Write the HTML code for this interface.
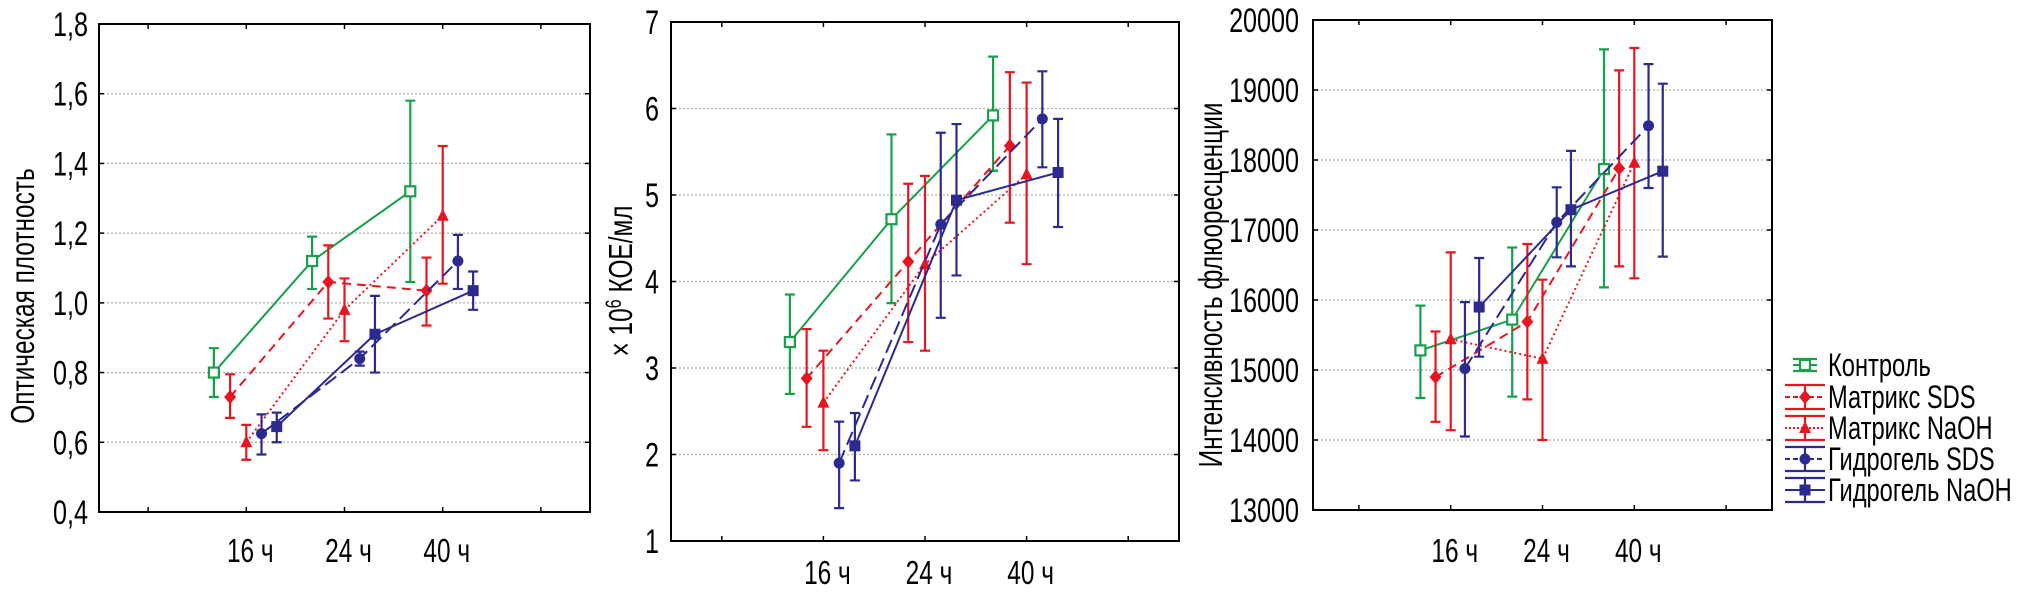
<!DOCTYPE html>
<html><head><meta charset="utf-8">
<style>
html,body{margin:0;padding:0;background:#fff;}
svg{display:block;}
text{font-family:"Liberation Sans","Noto Sans CJK SC",sans-serif;fill:#000;}
</style></head>
<body>
<svg id="root" width="2036" height="600" viewBox="0 0 2036 600" xmlns="http://www.w3.org/2000/svg"></svg>
<script>
// ---- data ----
const categories = ["16 ч","24 ч","40 ч"];
const seriesNames = ["Контроль","Матрикс SDS","Матрикс NaOH","Гидрогель SDS","Гидрогель NaOH"];
// Chart 1: optical density
const od_control = [0.80,1.12,1.32];
const od_control_lo = [0.73,1.04,1.06];
const od_control_hi = [0.87,1.19,1.58];
const od_msds = [0.73,1.06,1.035];
const od_msds_lo = [0.67,0.955,0.935];
const od_msds_hi = [0.795,1.165,1.13];
const od_mnaoh = [0.60,0.98,1.25];
const od_mnaoh_lo = [0.55,0.89,1.055];
const od_mnaoh_hi = [0.65,1.07,1.45];
const od_hsds = [0.625,0.84,1.12];
const od_hsds_lo = [0.565,0.82,1.04];
const od_hsds_hi = [0.68,0.86,1.195];
const od_hnaoh = [0.645,0.91,1.035];
const od_hnaoh_lo = [0.60,0.80,0.98];
const od_hnaoh_hi = [0.685,1.02,1.09];
const od_ticks = ["0,4","0,6","0,8","1,0","1,2","1,4","1,6","1,8"];
const od_tickvals = [0.4,0.6,0.8,1.0,1.2,1.4,1.6,1.8];
// Chart 2: CFU
const cfu_control = [3.3,4.72,5.92];
const cfu_control_lo = [2.7,3.75,5.28];
const cfu_control_hi = [3.85,5.7,6.6];
const cfu_msds = [2.88,4.23,5.57];
const cfu_msds_lo = [2.32,3.3,4.68];
const cfu_msds_hi = [3.45,5.13,6.42];
const cfu_mnaoh = [2.6,4.2,5.24];
const cfu_mnaoh_lo = [2.05,3.2,4.2];
const cfu_mnaoh_hi = [3.2,5.22,6.3];
const cfu_hsds = [1.9,4.66,5.88];
const cfu_hsds_lo = [1.38,3.58,5.32];
const cfu_hsds_hi = [2.38,5.72,6.43];
const cfu_hnaoh = [2.1,4.94,5.26];
const cfu_hnaoh_lo = [1.7,4.07,4.63];
const cfu_hnaoh_hi = [2.48,5.82,5.88];
const cfu_ticks = ["1","2","3","4","5","6","7"];
const cfu_tickvals = [1,2,3,4,5,6,7];
// Chart 3: fluorescence
const fl_control = [15280,15720,17870];
const fl_control_lo = [14600,14620,16180];
const fl_control_hi = [15920,16750,19580];
const fl_msds = [14900,15690,17880];
const fl_msds_lo = [14260,14580,16480];
const fl_msds_hi = [15550,16800,19280];
const fl_mnaoh = [15440,15160,17960];
const fl_mnaoh_lo = [14140,14000,16310];
const fl_mnaoh_hi = [16680,16290,19600];
const fl_hsds = [15020,17110,18490];
const fl_hsds_lo = [14050,16610,17600];
const fl_hsds_hi = [15970,17610,19370];
const fl_hnaoh = [15900,17290,17840];
const fl_hnaoh_lo = [15190,16480,16620];
const fl_hnaoh_hi = [16600,18130,19090];
const fl_ticks = ["13000","14000","15000","16000","17000","18000","19000","20000"];
const fl_tickvals = [13000,14000,15000,16000,17000,18000,19000,20000];

const GREEN="#16a04a", RED="#e8141f", BLUE="#2c2a8e";
const SX=0.74;
const styles = [
  {c:GREEN, dash:"", m:"osq", key:"control"},
  {c:RED, dash:"9 6", m:"dia", key:"matrix-sds"},
  {c:RED, dash:"2 3", m:"tri", key:"matrix-naoh"},
  {c:BLUE, dash:"14 6", m:"cir", key:"hydrogel-sds"},
  {c:BLUE, dash:"", m:"sq", key:"hydrogel-naoh"}
];
const NS="http://www.w3.org/2000/svg";
const root=document.getElementById('root');
function mk(tag,attrs,parent){const e=document.createElementNS(NS,tag);for(const k in attrs)e.setAttribute(k,attrs[k]);(parent||root).appendChild(e);return e;}
function ctext(parent,x,y,size,anchor,rot){
  const t=mk('text',{x:0,y:0,'font-size':size,'text-anchor':anchor,transform:`translate(${x} ${y})${rot?' rotate(-90)':''} scale(${SX} 1)`},parent);
  return t;
}

function marker(g,type,x,y,c){
  let e;
  if(type==="osq"){e=mk('rect',{x:x-5,y:y-5,width:10,height:10,fill:'#fff',stroke:c,'stroke-width':2.2},g);}
  else if(type==="sq"){e=mk('rect',{x:x-5.5,y:y-5.5,width:11,height:11,fill:c},g);}
  else if(type==="dia"){e=mk('polygon',{points:`${x},${y-7} ${x+6},${y} ${x},${y+7} ${x-6},${y}`,fill:c},g);}
  else if(type==="tri"){e=mk('polygon',{points:`${x},${y-7} ${x+6},${y+5} ${x-6},${y+5}`,fill:c},g);}
  else {e=mk('circle',{cx:x,cy:y,r:5.5,fill:c},g);}
  return e;
}

function chart(cfg){
  const {name,L,R,T,B,ymin,ymax,ticks,tickvals,labelRight,title,titleX,titleY,xLabelY,data}=cfg;
  const g=mk('g',{});
  
  
  const xs=v=>L+(v-0.5)*(R-L)/5;
  const ys=v=>B-(v-ymin)*(B-T)/(ymax-ymin);
  tickvals.forEach((v,i)=>{
    const y=ys(v);
    if(i>0&&i<tickvals.length-1){
      const gl=mk('line',{x1:L,x2:R,y1:y,y2:y,stroke:'#b0b0b0','stroke-width':1.2,'stroke-dasharray':'2 2'},g);
      
      
    }
    mk('line',{x1:L,x2:L+5,y1:y,y2:y,stroke:'#000','stroke-width':1.5},g);
    mk('line',{x1:R,x2:R-5,y1:y,y2:y,stroke:'#000','stroke-width':1.5},g);
    const t=ctext(g,labelRight,y+12,34,'end',false);
    t.textContent=ticks[i];
    
    
  });
  for(let k=1;k<=5;k++){
    const x=xs(k);
    mk('line',{x1:x,x2:x,y1:B,y2:B-5,stroke:'#000','stroke-width':1.5},g);
    mk('line',{x1:x,x2:x,y1:T,y2:T+5,stroke:'#000','stroke-width':1.5},g);
  }
  categories.forEach((c,i)=>{
    const t=ctext(g,xs(i+2)+4,xLabelY,33,'middle',false);
    t.textContent=c;
    
    
  });
  const box=mk('rect',{x:L,y:T,width:R-L,height:B-T,fill:'none',stroke:'#000','stroke-width':2},g);
  
  
  const tt=ctext(g,titleX,titleY,33,'middle',true);
  tt.innerHTML=title;
  
  
  const offs=[-0.33,-0.165,0,0.155,0.31];
  data.forEach((s,si)=>{
    const st=styles[si];
    const sg=mk('g',{},g);
    
    
    const pts=s.m.map((v,i)=>[xs(i+2+offs[si]),ys(v)]);
    const ln=mk('polyline',{points:pts.map(p=>p.join(',')).join(' '),fill:'none',stroke:st.c,'stroke-width':2,'stroke-dasharray':st.dash},sg);
    
    
    s.m.forEach((v,i)=>{
      const x=pts[i][0],yl=ys(s.lo[i]),yh=ys(s.hi[i]);
      const eb=mk('path',{d:`M${x},${yl}V${yh}M${x-5},${yl}H${x+5}M${x-5},${yh}H${x+5}`,stroke:st.c,'stroke-width':2.2,fill:'none'},sg);
      
      
      const mkr=marker(sg,st.m,x,pts[i][1],st.c);
      
      
    });
  });
}

chart({name:'optical-density-chart',L:99,R:590,T:24,B:512,ymin:0.4,ymax:1.8,ticks:od_ticks,tickvals:od_tickvals,labelRight:88,
  title:'Оптическая плотность',titleX:34,titleY:296,xLabelY:562,
  data:[{m:od_control,lo:od_control_lo,hi:od_control_hi},{m:od_msds,lo:od_msds_lo,hi:od_msds_hi},{m:od_mnaoh,lo:od_mnaoh_lo,hi:od_mnaoh_hi},{m:od_hsds,lo:od_hsds_lo,hi:od_hsds_hi},{m:od_hnaoh,lo:od_hnaoh_lo,hi:od_hnaoh_hi}]});
chart({name:'cfu-chart',L:671,R:1179,T:22,B:541,ymin:1,ymax:7,ticks:cfu_ticks,tickvals:cfu_tickvals,labelRight:659,
  title:'× 10<tspan dy="-11" font-size="22">6</tspan><tspan dy="11"> КОЕ/мл</tspan>',titleX:632,titleY:281,xLabelY:584,
  data:[{m:cfu_control,lo:cfu_control_lo,hi:cfu_control_hi},{m:cfu_msds,lo:cfu_msds_lo,hi:cfu_msds_hi},{m:cfu_mnaoh,lo:cfu_mnaoh_lo,hi:cfu_mnaoh_hi},{m:cfu_hsds,lo:cfu_hsds_lo,hi:cfu_hsds_hi},{m:cfu_hnaoh,lo:cfu_hnaoh_lo,hi:cfu_hnaoh_hi}]});
chart({name:'fluorescence-chart',L:1313,R:1772,T:20,B:510,ymin:13000,ymax:20000,ticks:fl_ticks,tickvals:fl_tickvals,labelRight:1299,
  title:'Интенсивность флюоресценции',titleX:1222,titleY:285,xLabelY:562,
  data:[{m:fl_control,lo:fl_control_lo,hi:fl_control_hi},{m:fl_msds,lo:fl_msds_lo,hi:fl_msds_hi},{m:fl_mnaoh,lo:fl_mnaoh_lo,hi:fl_mnaoh_hi},{m:fl_hsds,lo:fl_hsds_lo,hi:fl_hsds_hi},{m:fl_hnaoh,lo:fl_hnaoh_lo,hi:fl_hnaoh_hi}]});

// legend
const lg=mk('g',{});


const rowsY=[365,397,428,459,490];
seriesNames.forEach((n,i)=>{
  const st=styles[i], y=rowsY[i], x=1805;
  const e=mk('g',{},lg);
  
  
  const hw = i===0?12:20;
  const gap = i===0?6:12;
  mk('path',{d:`M${x-hw},${y-gap}H${x+hw}M${x-hw},${y+gap}H${x+hw}M${x},${y-gap}V${y+gap}`,stroke:st.c,'stroke-width':2.2,fill:'none'},e);
  mk('line',{x1:x-hw,x2:x+hw,y1:y,y2:y,stroke:st.c,'stroke-width':2,'stroke-dasharray':st.dash?(st.dash==="2 3"?"2 2":"5 3"):""},e);
  marker(e,st.m,x,y,st.c);
  const t=ctext(e,1828,y+11,32,'start',false);
  t.textContent=n;
});
</script>
</body></html>
